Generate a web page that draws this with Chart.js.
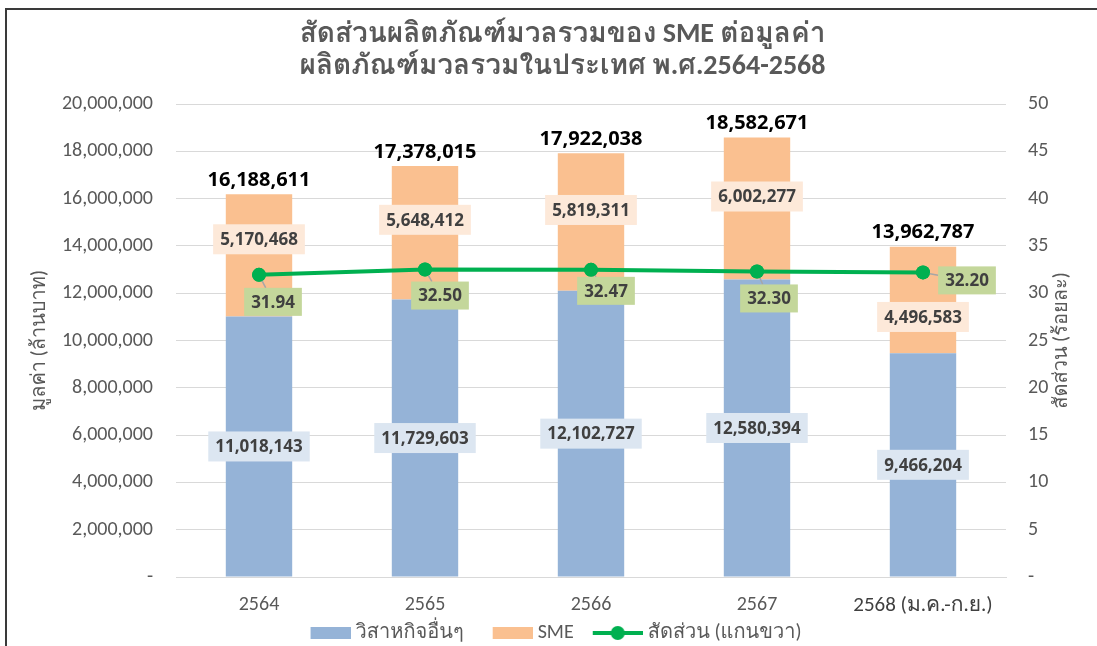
<!DOCTYPE html>
<html>
<head>
<meta charset="utf-8">
<script src="https://cdn.jsdelivr.net/npm/chart.js@4.4.0/dist/chart.umd.min.js"></script>
<style>
html,body{margin:0;padding:0;background:#fff;overflow:hidden;}
#wrap{position:relative;width:1097px;height:646px;}
#c{position:absolute;left:0;top:0;}
#frame{position:absolute;left:5px;top:8px;width:1092px;height:640px;border-left:2px solid #3a3a3a;border-top:2px solid #3a3a3a;box-sizing:border-box;pointer-events:none;}
</style>
</head>
<body>
<div id="wrap"><canvas id="c" width="1097" height="646"></canvas><div id="frame"></div></div>
<script>
// ---- data ----
const categories = ['2564', '2565', '2566', '2567', '2568 (ม.ค.-ก.ย.)'];
const otherValues = [11018143, 11729603, 12102727, 12580394, 9466204];
const smeValues = [5170468, 5648412, 5819311, 6002277, 4496583];
const ratioValues = [31.94, 32.50, 32.47, 32.30, 32.20];
const leftTickValues = [0, 2000000, 4000000, 6000000, 8000000, 10000000, 12000000, 14000000, 16000000, 18000000, 20000000];
const rightTickValues = [0, 5, 10, 15, 20, 25, 30, 35, 40, 45, 50];
const seriesNames = ['วิสาหกิจอื่นๆ', 'SME', 'สัดส่วน (แกนขวา)'];
const titleLines = ['สัดส่วนผลิตภัณฑ์มวลรวมของ SME ต่อมูลค่า', 'ผลิตภัณฑ์มวลรวมในประเทศ พ.ศ.2564-2568'];
const leftAxisTitle = 'มูลค่า (ล้านบาท)';
const rightAxisTitle = 'สัดส่วน (ร้อยละ)';

// ---- label placement (pixel shifts, style only) ----
const smeLabelShift = [-16, -13, -12, -12, 17];
const ratioLabelShift = [[14, 27], [15, 26], [15, 21], [12, 27], [44, 8]];

const C_BLUE = '#95B3D7', C_ORANGE = '#FAC090', C_GREEN = '#00B050';
const C_TEXT = '#595959', C_LABEL = '#404040', C_GRID = '#D9D9D9';
const FONT = "Carlito, Loma, 'Noto Sans Thai', sans-serif";
const LFONT = "'Open Sans', Loma, sans-serif";

const fmtNum = v => v === 0 ? '-' : Math.round(v).toLocaleString('en-US');

// legend swatches: image is drawn centred in a 52px slot; mark sits at the right of the image
function swatch(kind, color) {
  const c = document.createElement('canvas');
  c.width = 62; c.height = 16;
  const x = c.getContext('2d');
  if (kind === 'box') {
    x.fillStyle = color; x.fillRect(22, 2, 40, 12);
  } else {
    x.strokeStyle = color; x.lineWidth = 4;
    x.beginPath(); x.moveTo(12, 8); x.lineTo(62, 8); x.stroke();
    x.fillStyle = color; x.beginPath(); x.arc(37, 8, 7, 0, Math.PI * 2); x.fill();
  }
  return c;
}
const swatches = [swatch('box', C_BLUE), swatch('box', C_ORANGE), swatch('line', C_GREEN)];

function drawBox(ctx, text, cx, cy, bg, h, font) {
  ctx.font = font;
  const w = ctx.measureText(text).width + 14;
  ctx.fillStyle = bg;
  ctx.fillRect(cx - w / 2, cy - h / 2, w, h);
  ctx.fillStyle = C_LABEL;
  ctx.fillText(text, cx, cy + 1);
  return w;
}

const legendPlace = {
  id: 'legendPlace',
  afterLayout(chart) {
    const L = chart.legend;
    if (!L) return;
    const h = L.bottom - L.top;
    L.top = 611; L.bottom = 611 + h;
    L.left -= 15; L.right -= 15;
  }
};

const labelPlugin = {
  id: 'valueLabels',
  afterDatasetsDraw(chart) {
    const ctx = chart.ctx;
    const m0 = chart.getDatasetMeta(0), m1 = chart.getDatasetMeta(1), m2 = chart.getDatasetMeta(2);
    ctx.save();
    ctx.textAlign = 'center';
    ctx.textBaseline = 'middle';
    categories.forEach((c, i) => {
      const b0 = m0.data[i], b1 = m1.data[i], p = m2.data[i];
      const lf = 'bold 17px ' + LFONT;
      drawBox(ctx, fmtNum(otherValues[i]), b0.x, (b0.y + b0.base) / 2, '#DCE6F1', 30, lf);
      drawBox(ctx, fmtNum(smeValues[i]), b1.x, (b1.y + b1.base) / 2 + smeLabelShift[i], '#FDE9D9', 30, lf);
      ctx.font = 'bold 20px ' + LFONT;
      ctx.fillStyle = '#000000';
      ctx.fillText(fmtNum(otherValues[i] + smeValues[i]), b1.x, b1.y - 14);
      // ratio label with leader line
      const cx = p.x + ratioLabelShift[i][0], cy = p.y + ratioLabelShift[i][1];
      ctx.font = lf;
      const w = ctx.measureText(ratioValues[i].toFixed(2)).width + 14, h = 28;
      const dx = cx - p.x, dy = cy - p.y;
      const tx = Math.abs(dx) > 0 ? (w / 2) / Math.abs(dx) : Infinity;
      const ty = Math.abs(dy) > 0 ? (h / 2) / Math.abs(dy) : Infinity;
      const t = 1 - Math.min(tx, ty);
      const len = Math.hypot(dx, dy) * t;
      if (len > 8) {
        ctx.strokeStyle = '#A6A6A6';
        ctx.lineWidth = 1.5;
        ctx.beginPath();
        ctx.moveTo(p.x, p.y);
        ctx.lineTo(p.x + dx * t, p.y + dy * t);
        ctx.stroke();
        ctx.fillStyle = C_GREEN;
        ctx.beginPath(); ctx.arc(p.x, p.y, 7, 0, Math.PI * 2); ctx.fill();
      }
      drawBox(ctx, ratioValues[i].toFixed(2), cx, cy, '#C4D79B', h, lf);
    });
    // right axis title (rotated bottom-to-top like the left one)
    ctx.translate(1062, (chart.chartArea.top + chart.chartArea.bottom) / 2);
    ctx.rotate(-Math.PI / 2);
    ctx.font = '20px ' + FONT;
    ctx.fillStyle = C_TEXT;
    ctx.fillText(rightAxisTitle, 0, 0);
    ctx.restore();
  }
};

new Chart(document.getElementById('c'), {
  type: 'bar',
  data: {
    labels: categories,
    datasets: [
      { label: seriesNames[0], data: otherValues, backgroundColor: C_BLUE, stack: 's', yAxisID: 'y', order: 2,
        categoryPercentage: 1, barPercentage: 0.4 },
      { label: seriesNames[1], data: smeValues, backgroundColor: C_ORANGE, stack: 's', yAxisID: 'y', order: 2,
        categoryPercentage: 1, barPercentage: 0.4 },
      { type: 'line', label: seriesNames[2], data: ratioValues, yAxisID: 'y1', order: 1,
        borderColor: C_GREEN, backgroundColor: C_GREEN, borderWidth: 4, pointRadius: 7,
        pointBackgroundColor: C_GREEN, pointBorderWidth: 0, tension: 0, fill: false }
    ]
  },
  options: {
    responsive: false,
    animation: false,
    events: [],
    layout: { padding: { left: 28, right: 0, top: 19, bottom: -19 } },
    plugins: {
      tooltip: { enabled: false },
      title: {
        display: true, text: titleLines, color: C_TEXT,
        font: { family: FONT, size: 28, weight: 'bold', lineHeight: 1.143 },
        padding: { top: 0, bottom: 21 }
      },
      legend: {
        position: 'bottom',
        labels: {
          color: C_TEXT, font: { family: FONT, size: 20 }, padding: 12,
          usePointStyle: true, pointStyleWidth: 52, boxHeight: 12,
          generateLabels: (chart) => seriesNames.map((n, i) => ({
            text: n, pointStyle: swatches[i], fillStyle: 'transparent', strokeStyle: 'transparent',
            lineWidth: 0, datasetIndex: i, fontColor: C_TEXT, hidden: false
          }))
        }
      }
    },
    scales: {
      x: {
        stacked: true,
        grid: { display: false, drawTicks: false },
        border: { display: true, color: C_GRID, width: 1 },
        ticks: {
          padding: 16, maxRotation: 0, autoSkip: false,
          color: (ctx) => ctx.index === 4 ? '#404040' : C_TEXT,
          font: (ctx) => ctx.index === 4 ? { family: FONT, size: 21 } : { family: FONT, size: 20 }
        },
        afterFit: (s) => { s.height = 46; }
      },
      y: {
        stacked: true, position: 'left', min: 0, max: 20000000,
        afterBuildTicks: (s) => { s.ticks = leftTickValues.map(v => ({ value: v })); },
        grid: { color: C_GRID, drawTicks: false },
        border: { display: false },
        ticks: { padding: 23, color: C_TEXT, font: { family: FONT, size: 20 }, callback: (v) => fmtNum(v) },
        title: { display: true, text: leftAxisTitle, color: C_TEXT, font: { family: FONT, size: 20 }, padding: 0 },
        afterFit: (s) => { s.width = 148; }
      },
      y1: {
        position: 'right', min: 0, max: 50,
        afterBuildTicks: (s) => { s.ticks = rightTickValues.map(v => ({ value: v })); },
        grid: { drawOnChartArea: false, drawTicks: false },
        border: { display: false },
        ticks: { padding: 22, color: C_TEXT, font: { family: FONT, size: 20 }, callback: (v) => v === 0 ? '-' : String(v) },
        afterFit: (s) => { s.width = 91; }
      }
    }
  },
  plugins: [legendPlace, labelPlugin]
});
</script>
</body>
</html>
